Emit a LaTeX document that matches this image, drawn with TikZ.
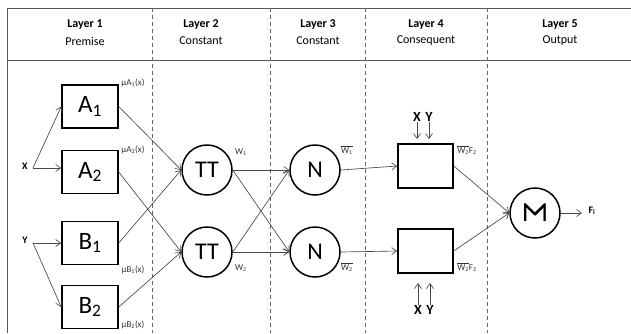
\documentclass[tikz,border=0pt]{standalone}
\usepackage{fontspec}
\usepackage{graphicx}
\setmainfont{Carlito}
\usetikzlibrary{arrows.meta}
\newcommand{\ovw}[1]{$\overline{\hbox{W\textsubscript{#1}}}$}
\begin{document}
\begin{tikzpicture}[x=1pt,y=-1pt,
  frame/.style={draw=black!65,line width=0.8pt},
  divider/.style={draw=black!60,line width=0.6pt,dash pattern=on 4pt off 3pt},
  mf/.style={draw=black,line width=1.5pt,minimum width=56pt,minimum height=43pt,inner sep=0pt,font=\fontsize{25}{27}\selectfont},
  cons/.style={draw=black,line width=1.5pt,minimum width=55pt,minimum height=44pt,inner sep=0pt},
  neuron/.style={draw=black,line width=1.5pt,circle,minimum size=50pt,inner sep=0pt,font=\fontsize{24}{26}\selectfont},
  link/.style={draw=black!72,line width=0.65pt,-{Straight Barb[length=5pt,width=7pt]}},
  hd/.style={font=\fontsize{12}{14}\selectfont\bfseries},
  sb/.style={font=\fontsize{12}{14}\selectfont},
  tiny/.style={font=\fontsize{9}{10}\selectfont,text=black!80,inner sep=0pt},
  lbl/.style={font=\fontsize{10}{12}\selectfont\bfseries,inner sep=0pt},
  xy/.style={font=\fontsize{14}{16}\selectfont\bfseries,inner sep=0pt}]
\useasboundingbox (0,0) rectangle (631,333);
\fill[white] (0,0) rectangle (631,333);

% frame and header band
\draw[frame] (631,8) -- (7,8) -- (7,333);
\draw[frame] (7,60) -- (631,60);
\foreach \xx in {152,270,365,487} \draw[divider] (\xx,8) -- (\xx,333);

% headers
\node[hd] (h1) at (85,25) {Layer 1};   \node[sb] (s1) at (85,41) {Premise};
\node[hd] (h2) at (201,25) {Layer 2};  \node[sb] (s2) at (201,41) {Constant};
\node[hd] (h3) at (318,25) {Layer 3};  \node[sb] (s3) at (318,41) {Constant};
\node[hd] (h4) at (426,25) {Layer 4};  \node[sb] (s4) at (426,41) {Consequent};
\node[hd] (h5) at (560,25) {Layer 5};  \node[sb] (s5) at (560,41) {Output};

% inputs
\node[lbl] (xl) at (25,166) {X};
\coordinate (xj) at (33,168);
\node[lbl] (yl) at (25,240) {Y};
\coordinate (yj) at (33,243);

% layer 1: membership functions
\node[mf] (A1) at (90,106.5) {A\textsubscript{1}};
\node[mf] (A2) at (90,172) {A\textsubscript{2}};
\node[mf] (B1) at (90,243) {B\textsubscript{1}};
\node[mf] (B2) at (90,307) {B\textsubscript{2}};
\node[tiny] (mA1) at (133,83) {µA\textsubscript{1}(x)};
\node[tiny] (mA2) at (133,150) {µA\textsubscript{2}(x)};
\node[tiny] (mB1) at (133,270) {µB\textsubscript{1}(x)};
\node[tiny] (mB2) at (133,325) {µB\textsubscript{2}(x)};

% layer 2: products
\node[neuron] (T1) at (207,170) {TT};
\node[neuron] (T2) at (207,252) {TT};
\node[tiny] (w1) at (241,152) {W\textsubscript{1}};
\node[tiny] (w2) at (241,268) {W\textsubscript{2}};

% layer 3: normalisation
\node[neuron] (N1) at (315,170) {N};
\node[neuron] (N2) at (315,252) {N};
\node[tiny] (nw1) at (347,150) {\ovw{1}};
\node[tiny] (nw2) at (347,267) {\ovw{2}};

% layer 4: consequents
\node[cons] (C1) at (425.5,166) {};
\node[cons] (C2) at (425.5,251) {};
\node[tiny] (f1) at (467,150) {\ovw{2}F\textsubscript{2}};
\node[tiny] (f2) at (467,267) {\ovw{2}F\textsubscript{2}};
\node[xy] (tx) at (417,117) {X};
\node[xy] (ty) at (429,117) {Y};
\node[xy] (bx) at (418,310) {X};
\node[xy] (by) at (430,310) {Y};
\coordinate (txe) at (417,139);
\coordinate (tye) at (429,139);
\coordinate (bxe) at (418,283);
\coordinate (bye) at (430,283);

% layer 5: summation (sigma turned on its side)
\node[neuron] (S) at (535,213) {\fontsize{34}{34}\selectfont\rotatebox{-90}{\scalebox{1.3}[1]{Σ}}};
\coordinate (out) at (582,213);
\node[lbl] (F) at (592,211) {F\textsubscript{i}};

% connections
\draw[link] (xj) -- (A1.west);
\draw[link] (xj) -- (A2.west |- xj);
\draw[link] (yj) -- (B1.west);
\draw[link] (yj) -- (B2.west);
\draw[link] (A1.east) -- (T1.west);
\draw[link] (B1.east) -- (T1.west);
\draw[link] (A2.east) -- (T2.west);
\draw[link] (B2.east) -- (T2.west);
\draw[link] (T1.east) -- (N1.west);
\draw[link] (T1.east) -- (N2.west);
\draw[link] (T2.east) -- (N1.west);
\draw[link] (T2.east) -- (N2.west);
\draw[link] (N1.east) -- (C1.west);
\draw[link] (N2.east) -- (C2.west);
\draw[link] (C1.east) -- (S.west);
\draw[link] (C2.east) -- (S.west);
\draw[link] (S.east) -- (out);
\draw[link] (tx.south) -- (txe);
\draw[link] (ty.south) -- (tye);
\draw[link] (bx.north) -- (bxe);
\draw[link] (by.north) -- (bye);
\end{tikzpicture}
\end{document}
